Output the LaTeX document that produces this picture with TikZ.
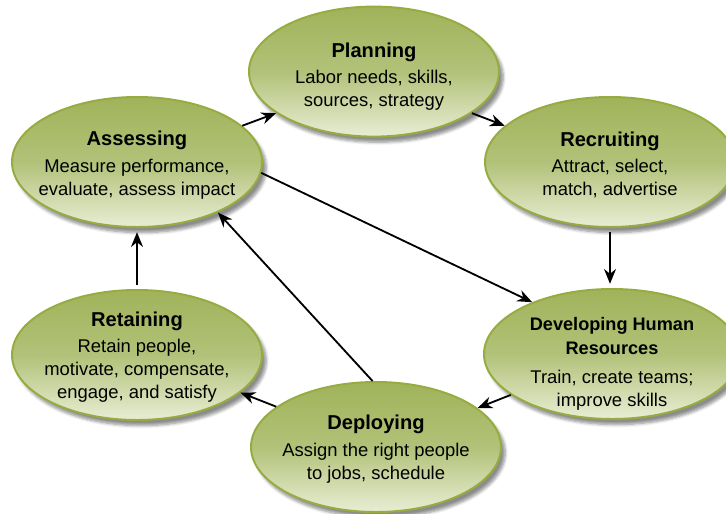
\documentclass[tikz,border=0pt]{standalone}
\usepackage{fontspec}
\setmainfont{Liberation Sans}
\usepackage{tikz}
\usetikzlibrary{arrows.meta, positioning, shapes.geometric, shadows.blur}

\definecolor{olivetop}{RGB}{160,179,90}
\definecolor{olivebot}{RGB}{232,237,212}
\definecolor{oliveedge}{RGB}{150,171,64}

\newcommand{\stagename}[1]{{\fontsize{14.3}{17}\selectfont\bfseries #1}}
\newcommand{\stagenamesmall}[1]{{\fontsize{12.9}{17}\selectfont\bfseries #1}}

\begin{document}
\begin{tikzpicture}[
    bubble/.style={ellipse, draw=oliveedge, line width=1.4pt,
        minimum width=6.25cm, minimum height=3.25cm,
        top color=olivetop, bottom color=olivebot, middle color=olivetop!75!olivebot,
        blur shadow={shadow xshift=3pt, shadow yshift=-4pt, shadow blur steps=6, shadow opacity=45}},
    txt/.style={align=center, font=\fontsize{13.1}{16.4}\selectfont},
    flow/.style={-{Stealth[length=10.5pt, width=8.5pt]}, line width=1.3pt}
]
    \useasboundingbox (0, 0) rectangle (18.15, 12.85);

    \node[bubble] (plan) at (9.35, 11.06) {};
    \node[bubble] (recruit) at (15.25, 8.8) {};
    \node[bubble] (assess) at (3.425, 8.8) {};
    \node[bubble] (retain) at (3.425, 3.975) {};
    \node[bubble, minimum width=6.4cm] (develop) at (15.3, 4.0) {};
    \node[bubble] (deploy) at (9.4, 1.675) {};

    \node[txt] (plantxt) at (9.35, 10.94) {\stagename{Planning}\\[2pt] Labor needs, skills,\\ sources, strategy};
    \node[txt] (recruittxt) at (15.25, 8.72) {\stagename{Recruiting}\\[2pt] Attract, select,\\ match, advertise};
    \node[txt] (assesstxt) at (3.425, 8.72) {\stagename{Assessing}\\[3pt] Measure performance,\\ evaluate, assess impact};
    \node[txt] (retaintxt) at (3.425, 3.92) {\stagename{Retaining}\\[2pt] Retain people,\\ motivate, compensate,\\ engage, and satisfy};
    \node[txt] (developtxt) at (15.3, 3.75) {\stagenamesmall{Developing Human}\\[0.6pt] \stagenamesmall{Resources}\\[4pt] Train, create teams;\\ improve skills};
    \node[txt] (deploytxt) at (9.4, 1.62) {\stagename{Deploying}\\[3pt] Assign the right people\\ to jobs, schedule};

    \draw[flow] (assess.19) -- (plan.203);
    \draw[flow] (plan.337) -- (recruit.161);
    \draw[flow, shorten <=3pt, shorten >=3pt] (recruit.south) -- (develop.north -| recruit.south);
    \draw[flow] (assess.355) -- (develop.147);
    \draw[flow] (develop.202) -- (deploy.21);
    \draw[flow] (deploy.93) -- (assess.328);
    \draw[flow] (deploy.158) -- (retain.340);
    \draw[flow, shorten <=3pt, shorten >=3pt] (retain.north) -- (assess.south);
\end{tikzpicture}
\end{document}
